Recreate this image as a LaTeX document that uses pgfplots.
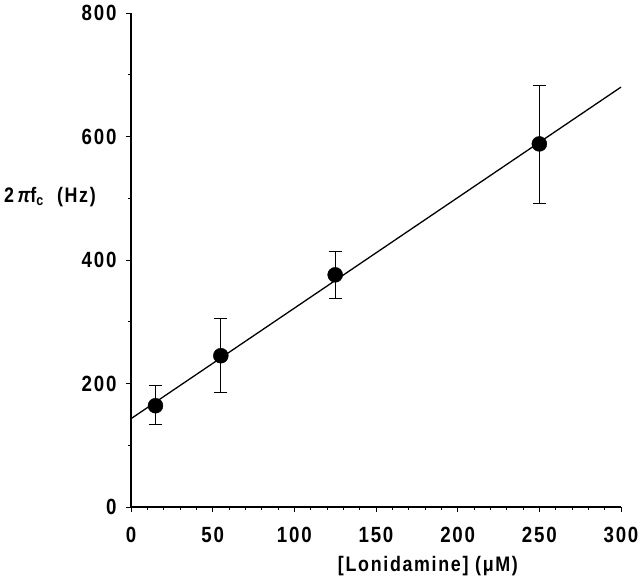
\documentclass[border=0pt]{standalone}
\usepackage{fontspec}
\setmainfont{Liberation Sans}[FakeStretch=0.85, LetterSpace=8]
\usepackage{pgfplots}
\pgfplotsset{compat=1.18}
\begin{document}
\begin{tikzpicture}
\begin{axis}[
  name=ax, at={(0pt,0pt)}, anchor=south west,
  scale only axis, width=490pt, height=494pt,
  xmin=0, xmax=300, ymin=0, ymax=800,
  axis lines=left,
  axis line style={-, line width=1.1pt},
  xtick={0,50,...,300}, ytick={0,200,...,800},
  minor x tick num=4, minor y tick num=1,
  tick align=outside,
  major tick length=5pt, minor tick length=3pt,
  every tick/.style={black, line width=0.9pt},
  ticklabel style={font=\fontsize{22pt}{25pt}\selectfont\bfseries},
  /pgf/number format/assume math mode=true,
  xticklabel style={yshift=-12pt},
  yticklabel style={xshift=-6pt},
  every axis x label/.style={at={(rel axis cs:0.606,0)}, anchor=center, yshift=-59pt},
  every axis y label/.style={at={(rel axis cs:0,0.6275)}, anchor=center, xshift=-81pt},
  label style={font=\fontsize{21pt}{24pt}\selectfont\bfseries},
  xlabel={[Lonidamine] (μM)},
  ylabel={2\,{\itshape π}f\textsubscript{c}\ \ (Hz)},
  clip=false,
]
\addplot[black, line width=1.3pt] coordinates {(0,143) (300,680)};
\addplot[black, only marks, mark=*, mark size=7.5pt,
  error bars/.cd, y dir=both, y explicit,
  error bar style={line width=1pt, black},
  error mark options={rotate=90, mark size=6.5pt, line width=1pt, black}]
  table[x=x, y=y, y error plus=ep, y error minus=em] {
x y ep em
15 164 32 31
55 245 61 60
125 376 38 38
250 588 94 96
};
\end{axis}
\pgfresetboundingbox
\path[use as bounding box] (-131pt,-77pt) rectangle (509pt,507pt);
\end{tikzpicture}
\end{document}
